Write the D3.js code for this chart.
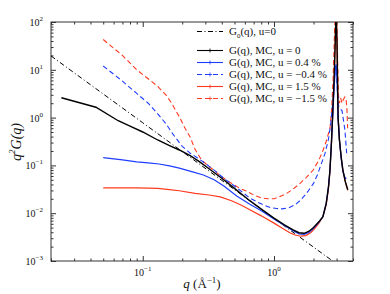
<!DOCTYPE html>
<html lang="en">
<head>
<meta charset="UTF-8">
<title>q2G(q)</title>
<script src="https://d3js.org/d3.v7.min.js"></script>
<style>
    body{ margin:0; background:#fff; }
    svg{ display:block; font-family:"Liberation Serif","DejaVu Serif",serif; }
    .axis path, .axis line{ stroke:#333; }
</style>
</head>
<body>
<script>
// values: [q, q^2 G(q)]
const g0Pts = [[0.02,19.5],[0.1,0.78],[1,0.0078],[3,0.00087]]
const mc0Pts = [[0.024,2.6],[0.044,1.65],[0.065,0.86],[0.08,0.66],[0.1,0.5],[0.13,0.34],[0.16,0.26],[0.19,0.21],[0.23,0.16],[0.27,0.12],[0.32,0.085],[0.4,0.054],[0.5,0.033],[0.65,0.0185],[0.8,0.0122],[1.0,0.0079],[1.2,0.0057],[1.4,0.0045],[1.55,0.0039],[1.7,0.0038],[1.85,0.0042],[2.0,0.005],[2.2,0.0066],[2.36,0.0085],[2.5,0.016],[2.6,0.035],[2.67,0.08],[2.74,0.3],[2.8,1.2],[2.87,6],[2.93,40],[2.97,200],[3.02,40],[3.05,6],[3.08,1.0],[3.15,0.35],[3.25,0.15],[3.35,0.08],[3.5,0.045],[3.65,0.031]]
const mcP04Pts = [[0.05,0.145],[0.07,0.13],[0.09,0.119],[0.11,0.113],[0.133,0.107],[0.16,0.098],[0.19,0.088],[0.24,0.073],[0.29,0.063],[0.35,0.05],[0.42,0.036],[0.52,0.023],[0.65,0.0155],[0.8,0.0113],[1.0,0.0076],[1.2,0.0055],[1.4,0.0043],[1.55,0.0037],[1.7,0.0036],[1.85,0.004],[2.0,0.0048],[2.2,0.0065],[2.36,0.0085],[2.5,0.016],[2.6,0.035],[2.67,0.08],[2.74,0.3],[2.8,1.0],[2.87,4],[2.93,10],[2.97,13],[3.0,10],[3.04,4],[3.08,1.0],[3.15,0.35],[3.25,0.14],[3.35,0.075],[3.45,0.058],[3.55,0.052]]
const mcM04Pts = [[0.05,12],[0.07,5.8],[0.09,3.2],[0.11,2.0],[0.13,1.2],[0.15,0.75],[0.17,0.45],[0.2,0.25],[0.23,0.18],[0.26,0.145],[0.3,0.11],[0.36,0.075],[0.42,0.052],[0.5,0.037],[0.58,0.027],[0.65,0.021],[0.75,0.017],[0.85,0.0145],[0.95,0.013],[1.05,0.0125],[1.15,0.0123],[1.3,0.013],[1.45,0.015],[1.6,0.019],[1.75,0.025],[1.9,0.034],[2.0,0.042],[2.15,0.065],[2.3,0.11],[2.45,0.18],[2.6,0.35],[2.7,0.7],[2.8,2],[2.88,6],[2.95,12],[3.0,8],[3.05,3],[3.12,1.6],[3.2,1.5],[3.3,1.4],[3.38,0.9],[3.47,0.55],[3.53,0.3],[3.58,0.18]]
const mcP15Pts = [[0.05,0.034],[0.07,0.034],[0.09,0.034],[0.11,0.0335],[0.13,0.033],[0.16,0.031],[0.19,0.0295],[0.25,0.026],[0.32,0.024],[0.39,0.022],[0.48,0.018],[0.57,0.0145],[0.66,0.0117],[0.8,0.0088],[1.0,0.0062],[1.15,0.0049],[1.32,0.0039],[1.45,0.0035],[1.6,0.0033],[1.75,0.0034],[1.9,0.0039],[2.05,0.0048],[2.2,0.0062],[2.36,0.0085],[2.5,0.015],[2.6,0.032],[2.67,0.075],[2.74,0.28],[2.8,1.1],[2.87,6],[2.93,40],[2.97,200],[3.02,40],[3.05,6],[3.08,1.0],[3.15,0.35],[3.25,0.15],[3.35,0.08],[3.5,0.045],[3.65,0.03]]
const mcM15Pts = [[0.05,43],[0.07,20],[0.09,10],[0.11,6.5],[0.13,4.5],[0.15,3.0],[0.166,2.0],[0.19,1.04],[0.21,0.6],[0.229,0.4],[0.25,0.22],[0.28,0.13],[0.32,0.095],[0.38,0.065],[0.45,0.046],[0.55,0.033],[0.62,0.029],[0.7,0.024],[0.8,0.021],[0.9,0.02],[1.0,0.02],[1.1,0.022],[1.25,0.026],[1.4,0.032],[1.58,0.042],[1.75,0.055],[1.99,0.08],[2.2,0.13],[2.37,0.21],[2.5,0.32],[2.67,0.6],[2.75,1.5],[2.82,6],[2.88,40],[2.93,200],[3.0,200],[3.05,20],[3.1,3],[3.15,2.0],[3.22,2.6],[3.3,2.0],[3.38,2.4],[3.47,2.7],[3.55,2.3],[3.6,1.4],[3.64,0.6]]

const legendLabels = ["G(q), MC, u = 0","G(q), MC, u = 0.4 %","G(q), MC, u = \u22120.4 %","G(q), MC, u = 1.5 %","G(q), MC, u = \u22121.5 %"]
const xMajor = [0.1, 1]
const xMajorExp = ["\u22121", "0"]
const yMajor = [1e-3, 1e-2, 1e-1, 1, 10, 100]
const yMajorExp = ["\u22123", "\u22122", "\u22121", "0", "1", "2"]

const svgSize = {width:390, height:294}
const margin = {top:22, left:51, bottom:33, right:37}
const blue = "#1f3dff", red = "#ff3a1f"

const svg = d3.select("body").append("svg")
    .attr("width", svgSize.width).attr("height", svgSize.height)

const xScale = d3.scaleLog().domain([0.02, 4]).range([margin.left, svgSize.width - margin.right])
const yScale = d3.scaleLog().domain([1e-3, 1e2]).range([svgSize.height - margin.bottom, margin.top])

// minor ticks 2..9 per decade
const xMinor = []
;[0.01, 0.1, 1].forEach(d => { for(let k=2;k<10;k++){ const v=d*k; if(v>=0.02 && v<=4) xMinor.push(v) } })
const yMinor = []
;[1e-3,1e-2,1e-1,1,10].forEach(d => { for(let k=2;k<10;k++) yMinor.push(d*k) })

const bottomY = svgSize.height - margin.bottom
const rightX = svgSize.width - margin.right

function addAxis(axisFn, vals, size, transform){
    svg.append("g").attr("class","axis").attr("transform", transform)
        .call(axisFn.tickValues(vals).tickSize(size).tickFormat(""))
        .call(g => g.select(".domain").remove())
}
addAxis(d3.axisBottom(xScale), xMajor, -5, `translate(0,${bottomY})`)
addAxis(d3.axisBottom(xScale), xMinor, -2.5, `translate(0,${bottomY})`)
addAxis(d3.axisTop(xScale), xMajor, -5, `translate(0,${margin.top})`)
addAxis(d3.axisTop(xScale), xMinor, -2.5, `translate(0,${margin.top})`)
addAxis(d3.axisLeft(yScale), yMajor, -5, `translate(${margin.left},0)`)
addAxis(d3.axisLeft(yScale), yMinor, -2.5, `translate(${margin.left},0)`)
addAxis(d3.axisRight(yScale), yMajor, -5, `translate(${rightX},0)`)
addAxis(d3.axisRight(yScale), yMinor, -2.5, `translate(${rightX},0)`)

svg.append("rect")
    .attr("x", margin.left).attr("y", margin.top)
    .attr("width", rightX - margin.left).attr("height", bottomY - margin.top)
    .attr("fill","none").attr("stroke","#333").attr("stroke-width",1)

// tick labels 10^n
xMajor.forEach((v,i) => {
    const t = svg.append("text").attr("x", xScale(v)).attr("y", bottomY + 15)
        .attr("text-anchor","middle").attr("font-size",10).attr("fill","#111")
    t.append("tspan").text("10")
    t.append("tspan").attr("dy",-5).attr("font-size",7).text(xMajorExp[i])
})
yMajor.forEach((v,i) => {
    const t = svg.append("text").attr("x", 43).attr("y", yScale(v) + 4)
        .attr("text-anchor","end").attr("font-size",10).attr("fill","#111")
    t.append("tspan").text("10")
    t.append("tspan").attr("dy",-5).attr("font-size",7).text(yMajorExp[i])
})

// axis titles
const xt = svg.append("text").attr("x", 202).attr("y", 288)
    .attr("text-anchor","middle").attr("font-size",13).attr("fill","#111")
xt.append("tspan").attr("font-style","italic").text("q")
xt.append("tspan").text(" (\u00C5")
xt.append("tspan").attr("dy",-5).attr("font-size",9).text("\u22121")
xt.append("tspan").attr("dy",5).text(")")

const yt = svg.append("text").attr("transform","translate(21,142) rotate(-90)")
    .attr("text-anchor","middle").attr("font-size",14).attr("fill","#111").attr("font-style","italic")
yt.append("tspan").text("q")
yt.append("tspan").attr("dy",-6).attr("font-size",9).text("2")
yt.append("tspan").attr("dy",6).text("G(q)")

// curves
svg.append("clipPath").attr("id","plotArea").append("rect")
    .attr("x", margin.left).attr("y", margin.top)
    .attr("width", rightX - margin.left).attr("height", bottomY - margin.top)
const plot = svg.append("g").attr("clip-path","url(#plotArea)")
const line = d3.line().x(d => xScale(d[0])).y(d => yScale(d[1]))

const series = [
    {pts: g0Pts,    color:"#000", dash:"5,2.5,1,2.5", width:1,   marker:false},
    {pts: mcM15Pts, color:red,    dash:"5,3",         width:1.1, marker:true},
    {pts: mcM04Pts, color:blue,   dash:"5,3",         width:1.1, marker:true},
    {pts: mcP15Pts, color:red,    dash:null,          width:1.2, marker:true},
    {pts: mcP04Pts, color:blue,   dash:null,          width:1.2, marker:true},
    {pts: mc0Pts,   color:"#000", dash:null,          width:1.4, marker:true}
]
series.forEach(s => {
    plot.append("path").attr("d", line(s.pts))
        .attr("fill","none").attr("stroke", s.color)
        .attr("stroke-width", s.width).attr("stroke-dasharray", s.dash)
})

// legend
const legX0 = 197, legX1 = 223, legText = 229
const legendStyles = [
    {color:"#000", dash:null}, {color:blue, dash:null}, {color:blue, dash:"5,3"},
    {color:red, dash:null}, {color:red, dash:"5,3"}
]
svg.append("line").attr("x1",legX0).attr("x2",legX1).attr("y1",31.5).attr("y2",31.5)
    .attr("stroke","#000").attr("stroke-dasharray","5,2.5,1,2.5")
const g0t = svg.append("text").attr("x",legText).attr("y",35).attr("font-size",11).attr("fill","#111")
g0t.append("tspan").text("G")
g0t.append("tspan").attr("dy",3).attr("font-size",7).text("0")
g0t.append("tspan").attr("dy",-3).text("(q), u=0")

legendLabels.forEach((lab,i) => {
    const yy = 50.5 + i*12
    const st = legendStyles[i]
    svg.append("line").attr("x1",legX0).attr("x2",legX1).attr("y1",yy).attr("y2",yy)
        .attr("stroke",st.color).attr("stroke-width",1.1).attr("stroke-dasharray",st.dash)
    svg.append("path").attr("d",`M${(legX0+legX1)/2-2},${yy}h4M${(legX0+legX1)/2},${yy-2}v4`)
        .attr("stroke",st.color).attr("stroke-width",0.8)
    svg.append("text").attr("x",legText).attr("y",yy+3.5).attr("font-size",11).attr("fill","#111").text(lab)
})
</script>
</body>
</html>
